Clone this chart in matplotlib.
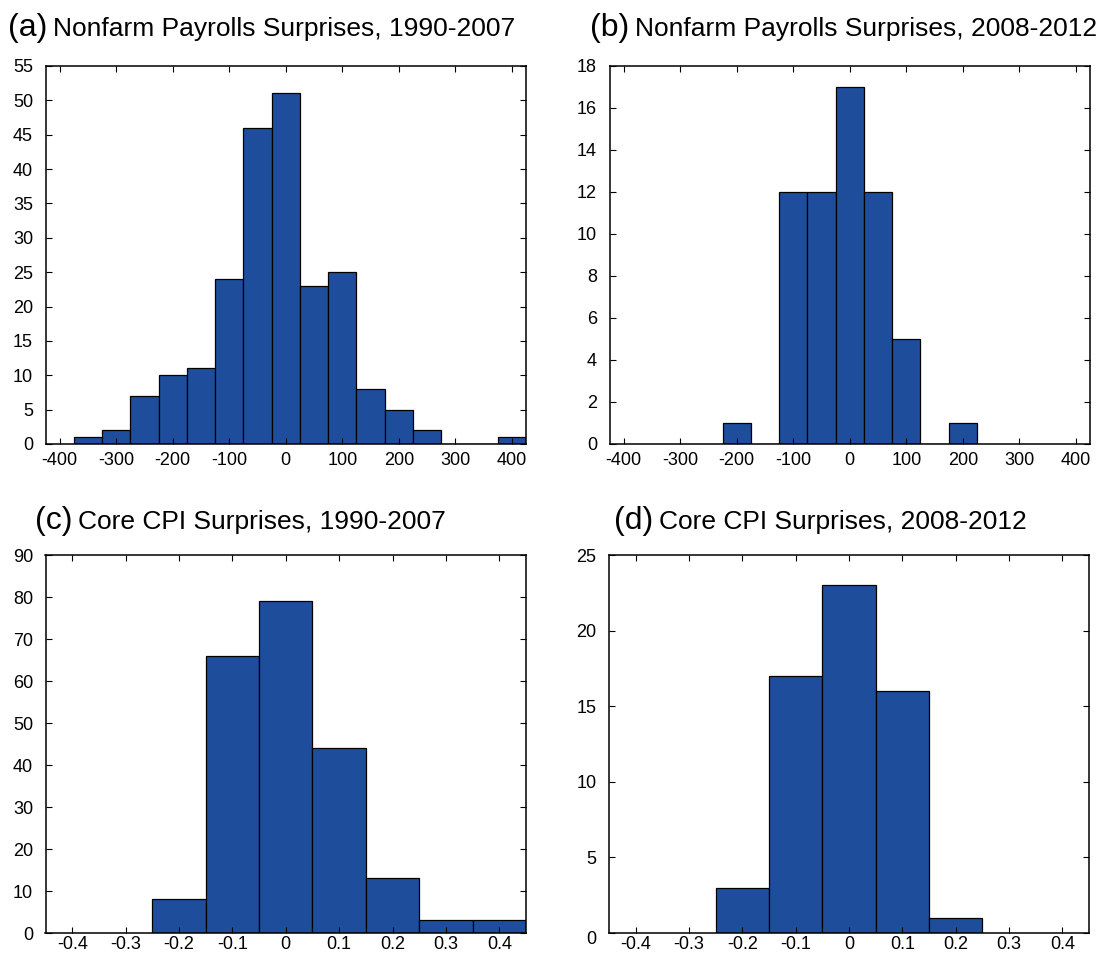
import matplotlib
matplotlib.use("Agg")
import matplotlib.pyplot as plt
import matplotlib.transforms as mtransforms

plt.rcParams['font.family'] = ['Liberation Sans', 'DejaVu Sans']

# (a) Nonfarm payrolls 1990-2007
nfp1_bins = [-350, -300, -250, -200, -150, -100, -50, 0, 50, 100, 150, 200, 250, 300, 350, 400]
nfp1_counts = [1, 2, 7, 10, 11, 24, 46, 51, 23, 25, 8, 5, 2, 0, 0, 1]
# (b) Nonfarm payrolls 2008-2012
nfp2_bins = [-200, -150, -100, -50, 0, 50, 100, 150, 200]
nfp2_counts = [1, 0, 12, 12, 17, 12, 5, 0, 1]
# (c) Core CPI 1990-2007
cpi1_bins = [-0.2, -0.1, 0.0, 0.1, 0.2, 0.3, 0.4]
cpi1_counts = [8, 66, 79, 44, 13, 3, 3]
# (d) Core CPI 2008-2012
cpi2_bins = [-0.2, -0.1, 0.0, 0.1, 0.2]
cpi2_counts = [3, 17, 23, 16, 1]

nfp_ticks = [-400, -300, -200, -100, 0, 100, 200, 300, 400]
nfp_ticklabels = ['-400', '-300', '-200', '-100', '0', '100', '200', '300', '400']
cpi_ticks = [-0.4, -0.3, -0.2, -0.1, 0, 0.1, 0.2, 0.3, 0.4]
cpi_ticklabels = ['-0.4', '-0.3', '-0.2', '-0.1', '0', '0.1', '0.2', '0.3', '0.4']

W, H = 1103, 956
fig = plt.figure(figsize=(W / 100, H / 100), dpi=100)

barcol = '#1E4E9B'


def make_ax(l, r, t, b):
    return fig.add_axes([l / W, 1 - b / H, (r - l) / W, (b - t) / H])


def style(ax, xt, xtl, xlim, ystep, ymax, xpad):
    ax.set_xlim(xlim)
    ax.set_ylim(0, ymax)
    ax.set_xticks(xt)
    ax.set_xticklabels(xtl)
    ax.set_yticks(list(range(0, ymax + 1, ystep)))
    ax.tick_params(direction='in', length=4, width=0.8, top=True, right=True,
                   labelsize=13, colors='black')
    ax.tick_params(axis='y', pad=9)
    ax.tick_params(axis='x', pad=xpad)
    for s in ax.spines.values():
        s.set_linewidth(1.1)


panels = [
    (45.5, 526, 66, 444, nfp1_bins, nfp1_counts, 50, nfp_ticks, nfp_ticklabels, (-425, 425), 5, 55, 6),
    (609.5, 1090, 66, 444, nfp2_bins, nfp2_counts, 50, nfp_ticks, nfp_ticklabels, (-425, 425), 2, 18, 6),
    (45.5, 526, 555, 933, cpi1_bins, cpi1_counts, 0.1, cpi_ticks, cpi_ticklabels, (-0.45, 0.45), 10, 90, 2),
    (609, 1089, 555, 933, cpi2_bins, cpi2_counts, 0.1, cpi_ticks, cpi_ticklabels, (-0.45, 0.45), 5, 25, 2),
]

axes = []
for (l, r, t, b, bins, counts, w, xt, xtl, xl, ys, ym, xp) in panels:
    ax = make_ax(l, r, t, b)
    ax.bar(bins, counts, width=w, color=barcol, edgecolor='black', linewidth=0.9)
    style(ax, xt, xtl, xl, ys, ym, xp)
    axes.append(ax)

# the zero label of panel (d) sits a bit lower than its tick
fig.canvas.draw()
lab0 = axes[3].get_yticklabels()[0]
lab0.set_transform(lab0.get_transform() + mtransforms.ScaledTranslation(0, -5 / 100, fig.dpi_scale_trans))

titles = [
    ('(a)', 'Nonfarm Payrolls Surprises, 1990-2007', 8, 36),
    ('(b)', 'Nonfarm Payrolls Surprises, 2008-2012', 590, 36),
    ('(c)', 'Core CPI Surprises, 1990-2007', 35, 529),
    ('(d)', 'Core CPI Surprises, 2008-2012', 614, 529),
]
for lab, txt, x, y in titles:
    t1 = fig.text(x / W, 1 - y / H, lab, fontsize=23, va='baseline', ha='left')
    bb = t1.get_window_extent(renderer=fig.canvas.get_renderer())
    fig.text((bb.x1 + 6) / W, 1 - y / H, txt, fontsize=19, va='baseline', ha='left')

fig.savefig('out.png', dpi=100)
